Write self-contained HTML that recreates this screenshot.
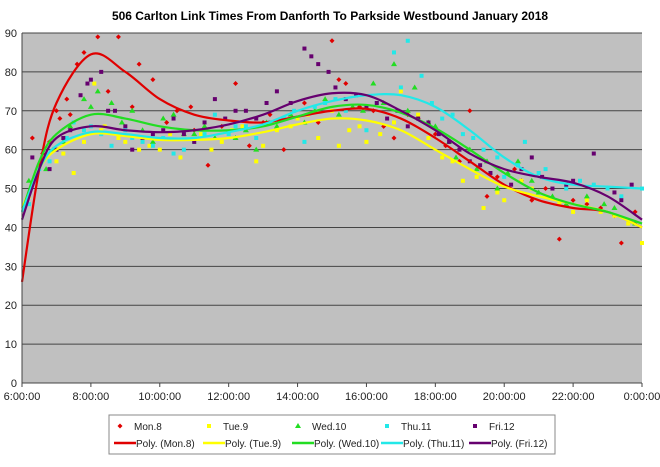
<!DOCTYPE html>
<html><head><meta charset="utf-8"><style>
body{margin:0;background:#fff;font-family:"Liberation Sans",Arial,sans-serif}
svg text{font-family:"Liberation Sans",Arial,sans-serif}
</style></head><body>
<svg id="c" width="660" height="462">
<text x="330" y="20" text-anchor="middle" font-size="12" font-weight="bold">506 Carlton Link Times From Danforth To Parkside Westbound January 2018</text>
<rect x="22" y="33" width="620" height="350" fill="#c0c0c0"/>
<g id="grid"></g><g id="pts"></g><g id="lines"></g><g id="axes"></g>
<rect x="109" y="415" width="446" height="39" fill="#fff" stroke="#888"/>
<g id="leg"></g>
</svg>
<script>
const hours=[6,6.5,7,8,9,10,11,12,13,14,15,16,17,18,19,20,21,22,23,24];
const names=['Mon.8','Tue.9','Wed.10','Thu.11','Fri.12'];
const colors=['#e00000','#ffff00','#22dd22','#22e8e8','#66006f'];
const monFit=[26,55,72,84.5,80,73,69,67.5,67,68.5,70,70.5,68,63,57,51,47,45,44,40];
const tueFit=[45,55,60,64,63.5,62.5,62.5,63,64.5,66.5,68,67.5,65,60,55,50.5,48,46,44,40];
const wedFit=[44,57,64,69,68,66,65,65,66,68.5,71,71.5,69.5,65.5,60,54,49,46,44,41];
const thuFit=[44,55,61,64.5,64,63,63,64.5,66.5,70,72.5,74,74,71,65,58,53,51,50.5,50];
const friFit=[42,55,63,66,65,64.5,65,66.5,69,72.5,74.5,74,70,65,59,55,53,51.5,48,42];
const fits=[monFit,tueFit,wedFit,thuFit,friFit];
const monPts=[[6.3,63],[6.6,59],[7,70],[7.3,73],[7.6,82],[7.8,85],[8.2,89],[8.8,89],[9.4,82],[9.8,78],[10.5,70],[10.9,71],[11.4,56],[12.2,77],[13,67],[13.6,60],[14.2,72],[15,88],[15.4,77],[16.2,70],[16.8,63],[17.5,68],[18.3,61],[19,70],[19.5,48],[20.3,55],[20.8,47],[21.6,37],[22.4,46],[23.4,36],[23.8,44],[6.8,62],[7.1,68],[7.4,69],[8.5,75],[9.2,71],[10.2,67],[11,65],[11.8,66],[12.6,61],[13.2,69],[14.6,67],[15.2,78],[15.8,71],[16.5,66],[17.2,69],[18.0,64],[18.7,57],[19.8,53],[20.5,52],[21.2,50],[22,47],[22.8,45],[23.2,43]];
const tuePts=[[6.2,48],[6.6,58],[7,57],[7.5,54],[8.1,77],[8.4,66],[8.8,63],[9.4,60],[10,60],[10.6,58],[11.2,64],[11.8,62],[12.4,66],[12.8,57],[13.4,65],[14,68],[14.6,63],[15.2,61],[15.8,66],[16.4,64],[17,75],[17.5,69],[18.2,58],[18.8,52],[19.4,45],[20,47],[20.5,52],[21.2,48],[22,44],[22.8,44],[23.6,41],[24,36],[7.2,59],[7.8,62],[8.3,65],[9,62],[9.7,61],[10.3,64],[11,62],[11.5,60],[12.1,65],[13,61],[13.8,66],[14.3,69],[15,70],[15.5,65],[16,62],[16.8,67],[17.8,63],[18.5,57],[19.2,53],[19.8,49],[20.8,50],[21.6,46],[22.4,47],[23.2,43]];
const wedPts=[[6.2,52],[6.7,55],[7.2,62],[7.8,73],[8.2,75],[8.6,72],[9.2,70],[9.8,62],[10.4,69],[11,64],[11.6,63],[12.2,63],[12.8,60],[13.4,66],[14.2,67],[14.8,73],[15.6,71],[16.2,77],[16.8,82],[17.4,76],[18,66],[18.6,58],[19.2,55],[19.8,50],[20.4,57],[21,49],[21.8,46],[22.4,48],[23.2,45],[23.8,41],[6.9,60],[7.4,66],[8,71],[8.9,67],[9.5,65],[10.1,68],[10.7,64],[11.3,66],[12.5,65],[13.1,67],[13.8,69],[14.5,70],[15.2,69],[15.9,70],[16.5,72],[17.2,70],[17.8,67],[18.4,62],[19,60],[19.5,57],[20.1,54],[20.8,52],[21.4,48],[22.9,46]];
const thuPts=[[6.2,46],[6.5,55],[7,60],[7.5,67],[8,66],[8.6,61],[9.2,63],[9.8,61],[10.4,59],[11,62],[11.6,69],[12.2,66],[12.8,63],[13.6,68],[14.2,62],[14.8,72],[15.4,70],[16,65],[16.8,85],[17.2,88],[17.6,79],[18.2,68],[18.8,64],[19.4,60],[20,53],[20.6,62],[21.2,55],[21.8,50],[22.6,51],[23.4,48],[24,50],[6.8,57],[7.3,63],[7.8,65],[8.3,64],[9,65],[9.5,62],[10.1,63],[10.7,60],[11.3,64],[12,64],[12.5,66],[13.2,67],[13.9,70],[14.5,71],[15.1,73],[15.7,74],[16.3,72],[17,76],[17.9,72],[18.5,69],[19.1,63],[19.8,58],[20.4,56],[21,54],[22.2,52],[23,50]];
const friPts=[[6.3,58],[6.8,55],[7.2,63],[7.7,74],[8,78],[8.3,80],[8.7,70],[9.2,60],[9.8,64],[10.4,68],[11,62],[11.6,73],[12.2,70],[12.8,68],[13.4,75],[14.2,86],[14.6,82],[14.9,80],[15.4,73],[16,71],[16.6,68],[17.2,66],[17.8,67],[18.4,62],[19,57],[19.6,54],[20.2,51],[20.8,58],[21.4,50],[22,52],[22.6,59],[23.2,49],[23.7,51],[7,60],[7.4,65],[7.9,77],[8.5,70],[9,66],[9.5,63],[10.1,65],[10.7,64],[11.3,67],[11.9,68],[12.5,70],[13.1,72],[13.8,72],[14.4,84],[15.1,76],[15.7,74],[16.3,72],[16.9,70],[17.5,68],[18.1,64],[18.7,60],[19.3,56],[20.5,55],[21.1,53],[21.8,51],[23.4,47]];
const pts=[monPts,tuePts,wedPts,thuPts,friPts];
const yTicks=[0,10,20,30,40,50,60,70,80,90];
const xTicks=['6:00:00','8:00:00','10:00:00','12:00:00','14:00:00','16:00:00','18:00:00','20:00:00','22:00:00','0:00:00'];
const X=h=>22+(h-6)/18*620, Y=v=>383-v/90*350;
const NS='http://www.w3.org/2000/svg';
function mk(p,t,a){const e=document.createElementNS(NS,t);for(const k in a)e.setAttribute(k,a[k]);document.getElementById(p).appendChild(e);return e;}
yTicks.forEach(v=>{
 if(v>0){const g=mk('grid','line',{x1:22,x2:642,y1:Y(v),y2:Y(v),stroke:'#444','stroke-width':1});
 
 }
 const t=mk('axes','text',{x:17,y:Y(v)+4,'text-anchor':'end','font-size':11,fill:'#222'});t.textContent=v;
 
 
});
xTicks.forEach((s,i)=>{
 const x=X(6+i*2);
 mk('axes','line',{x1:x,x2:x,y1:383,y2:387,stroke:'#444'});
 const t=mk('axes','text',{x:x,y:400,'text-anchor':'middle','font-size':11,fill:'#222'});t.textContent=s;
 
 
});
mk('axes','line',{x1:22,x2:22,y1:33,y2:383,stroke:'#444'});
mk('axes','line',{x1:22,x2:642,y1:383,y2:383,stroke:'#444'});
function mark(p,c,x,y,i){
 if(i==0)return mk(p,'path',{d:`M${x} ${y-2.5}L${x+2.5} ${y}L${x} ${y+2.5}L${x-2.5} ${y}Z`,fill:c});
 if(i==2)return mk(p,'path',{d:`M${x} ${y-3}L${x+3} ${y+2}L${x-3} ${y+2}Z`,fill:c});
 return mk(p,'rect',{x:x-2,y:y-2,width:4,height:4,fill:c});
}
pts.forEach((arr,i)=>arr.forEach(([h,v])=>{
 const m=mark('pts',colors[i],X(h),Y(v),i);
 
 
}));
function smooth(P){let d=`M${P[0][0]} ${P[0][1]}`;
 for(let i=0;i<P.length-1;i++){const p0=P[Math.max(0,i-1)],p1=P[i],p2=P[i+1],p3=P[Math.min(P.length-1,i+2)];
 d+=`C${p1[0]+(p2[0]-p0[0])/6} ${p1[1]+(p2[1]-p0[1])/6} ${p2[0]-(p3[0]-p1[0])/6} ${p2[1]-(p3[1]-p1[1])/6} ${p2[0]} ${p2[1]}`;}
 return d;}
fits.forEach((f,i)=>{
 const l=mk('lines','path',{d:smooth(hours.map((h,j)=>[X(h),Y(f[j])])),fill:'none',stroke:colors[i],'stroke-width':2.2});
 
 
});
const tx=[136,225,314,403,491];
names.forEach((n,i)=>{
 const m=mark('leg',colors[i],tx[i]-16,426,i);
 
 
 const t=mk('leg','text',{x:tx[i]-2,y:430,'font-size':10,fill:'#222'});t.textContent=n;
 
 
 mk('leg','line',{x1:tx[i]-22,x2:tx[i],y1:443,y2:443,stroke:colors[i],'stroke-width':2.5});
 const t2=mk('leg','text',{x:tx[i],y:447,'font-size':10,fill:'#222'});t2.textContent='Poly. ('+n+')';
 
 
});
</script>
</body></html>
